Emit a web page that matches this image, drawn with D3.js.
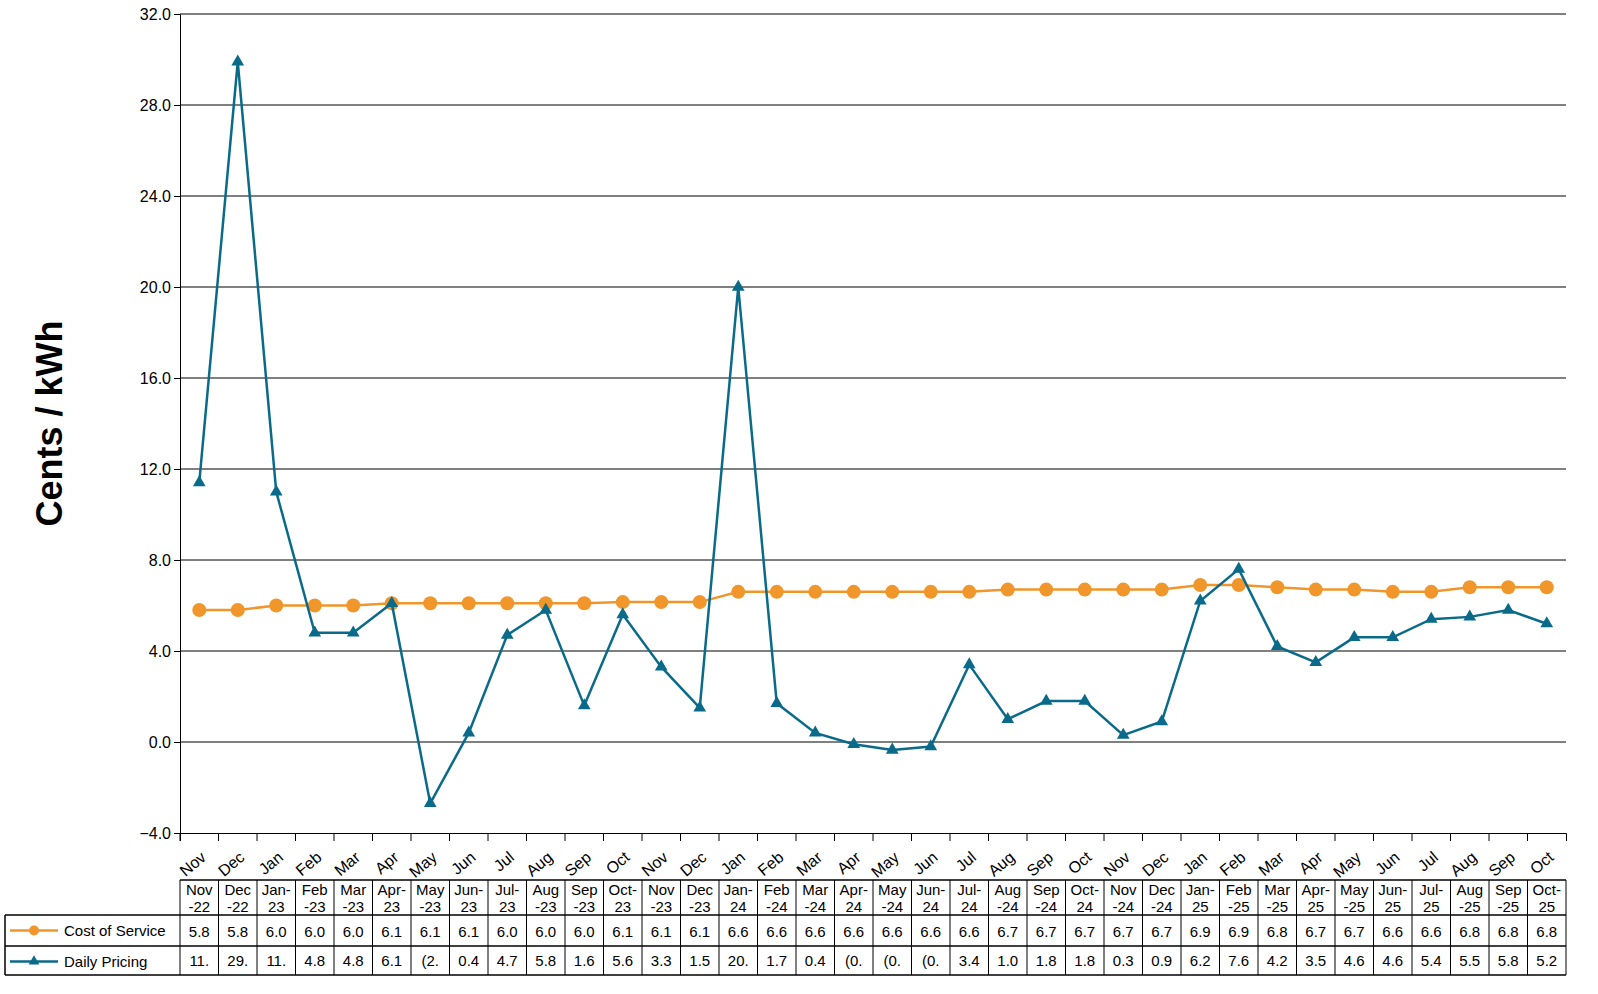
<!DOCTYPE html>
<html><head><meta charset="utf-8">
<script src="https://cdn.jsdelivr.net/npm/d3@7"></script>
<style>body{margin:0;background:#fff;font-family:"Liberation Sans",Arial,sans-serif}</style>
</head><body><div class="chart"></div>
<script>
const months = ['Nov','Dec','Jan','Feb','Mar','Apr','May','Jun','Jul','Aug','Sep','Oct',
  'Nov','Dec','Jan','Feb','Mar','Apr','May','Jun','Jul','Aug','Sep','Oct',
  'Nov','Dec','Jan','Feb','Mar','Apr','May','Jun','Jul','Aug','Sep','Oct']
const headers = [['Nov','-22'],['Dec','-22'],['Jan-','23'],['Feb','-23'],['Mar','-23'],['Apr-','23'],['May','-23'],['Jun-','23'],['Jul-','23'],['Aug','-23'],['Sep','-23'],['Oct-','23'],
  ['Nov','-23'],['Dec','-23'],['Jan-','24'],['Feb','-24'],['Mar','-24'],['Apr-','24'],['May','-24'],['Jun-','24'],['Jul-','24'],['Aug','-24'],['Sep','-24'],['Oct-','24'],
  ['Nov','-24'],['Dec','-24'],['Jan-','25'],['Feb','-25'],['Mar','-25'],['Apr-','25'],['May','-25'],['Jun-','25'],['Jul-','25'],['Aug','-25'],['Sep','-25'],['Oct-','25']]
const costOfService = [5.8,5.8,6.0,6.0,6.0,6.1,6.1,6.1,6.1,6.1,6.1,6.15,6.15,6.15,6.6,6.6,6.6,6.6,6.6,6.6,6.6,6.7,6.7,6.7,6.7,6.7,6.9,6.9,6.8,6.7,6.7,6.6,6.6,6.8,6.8,6.8]
const costLabels = ['5.8','5.8','6.0','6.0','6.0','6.1','6.1','6.1','6.0','6.0','6.0','6.1','6.1','6.1','6.6','6.6','6.6','6.6','6.6','6.6','6.6','6.7','6.7','6.7','6.7','6.7','6.9','6.9','6.8','6.7','6.7','6.6','6.6','6.8','6.8','6.8']
const dailyPricing = [11.4,29.9,11.0,4.8,4.8,6.1,-2.7,0.4,4.7,5.8,1.6,5.6,3.3,1.5,20.0,1.7,0.4,-0.1,-0.35,-0.2,3.4,1.0,1.8,1.8,0.3,0.9,6.2,7.6,4.2,3.5,4.6,4.6,5.4,5.5,5.8,5.2]
const yTicks = [-4,0,4,8,12,16,20,24,28,32]

const W = 1598, H = 994
const pLeft = 180, pRight = 1566, pTop = 14, pBottom = 833
const svg = d3.select('.chart').append('svg').attr('width', W).attr('height', H)

const x = d3.scaleBand().domain(d3.range(36)).range([pLeft, pRight])
const y = d3.scaleLinear().domain([-4, 32]).range([pBottom, pTop])
const cx = i => x(i) + x.bandwidth() / 2

// gridlines
svg.append('g').selectAll('line').data(yTicks.slice(1)).enter().append('line')
  .attr('x1', pLeft).attr('x2', pRight).attr('y1', d => y(d)).attr('y2', d => y(d))
  .attr('stroke', '#000').attr('stroke-width', 1)

svg.append('g').attr('transform', `translate(${pLeft},0)`)
  .call(d3.axisLeft(y).tickValues(yTicks).tickFormat(d3.format('.1f')).tickSize(6))
  .call(g => g.selectAll('text').attr('font-size', 16).attr('font-family', 'Liberation Sans').attr('fill', '#000'))
  .call(g => g.selectAll('line,path').attr('stroke', '#000'))

svg.append('g').attr('transform', `translate(0,${pBottom})`)
  .call(d3.axisBottom(x).tickSize(8).tickFormat(''))
  .call(g => g.selectAll('.tick').attr('transform', d => `translate(${x(d)},0)`))
  .call(g => g.selectAll('line,path').attr('stroke', '#000'))

// rotated month labels
svg.append('g').selectAll('text').data(months).enter().append('text')
  .attr('transform', (d, i) => `translate(${cx(i) + 8},${pBottom + 26}) rotate(-40)`)
  .attr('text-anchor', 'end').attr('font-size', 16).text(d => d)

svg.append('text').attr('transform', `translate(62,${(pTop + pBottom) / 2}) rotate(-90)`)
  .attr('text-anchor', 'middle').attr('font-size', 36).attr('font-weight', 'bold').text('Cents / kWh')

const orange = '#f0962a', teal = '#0a6a8a'
const line = d3.line().x((d, i) => cx(i)).y(d => y(d))
svg.append('path').datum(costOfService).attr('d', line).attr('fill', 'none').attr('stroke', orange).attr('stroke-width', 2.5)
svg.append('g').selectAll('circle').data(costOfService).enter().append('circle')
  .attr('cx', (d, i) => cx(i)).attr('cy', d => y(d)).attr('r', 7).attr('fill', orange)
svg.append('path').datum(dailyPricing).attr('d', line).attr('fill', 'none').attr('stroke', teal).attr('stroke-width', 2.5)
const tri = d3.symbol().type(d3.symbolTriangle).size(70)
svg.append('g').selectAll('path').data(dailyPricing).enter().append('path')
  .attr('d', tri).attr('transform', (d, i) => `translate(${cx(i)},${y(d)})`).attr('fill', teal)

// data table
const t0 = 880, t1 = 915, t2 = 946, t3 = 975, tl = 5
const tg = svg.append('g').attr('stroke', '#000').attr('stroke-width', 1.5)
tg.append('line').attr('x1', pLeft).attr('x2', pRight).attr('y1', t0).attr('y2', t0)
;[t1, t2, t3].forEach(v => tg.append('line').attr('x1', tl).attr('x2', pRight).attr('y1', v).attr('y2', v))
d3.range(37).forEach(i => {
  const xx = i < 36 ? x(i) : pRight
  tg.append('line').attr('x1', xx).attr('x2', xx).attr('y1', t0).attr('y2', t3).attr('stroke-width', 1)
})
tg.append('line').attr('x1', tl).attr('x2', tl).attr('y1', t1).attr('y2', t3)

headers.forEach((h, i) => {
  h.forEach((s, k) => svg.append('text').attr('x', cx(i)).attr('y', t0 + 15 + k * 17)
    .attr('text-anchor', 'middle').attr('font-size', 15).text(s))
})
const dpLabel = v => (v < 0 ? '(' + Math.abs(v).toFixed(1) : v.toFixed(1)).slice(0, 3)
costLabels.forEach((s, i) => svg.append('text').attr('x', cx(i)).attr('y', t1 + 22)
  .attr('text-anchor', 'middle').attr('font-size', 15).text(s))
dailyPricing.forEach((v, i) => svg.append('text').attr('x', cx(i)).attr('y', t2 + 20)
  .attr('text-anchor', 'middle').attr('font-size', 15).text(v >= 10 ? String(Math.floor(v)) + '.' : dpLabel(v)))

// legend keys in table
const keys = [[orange, 'circle', 'Cost of Service', t1], [teal, 'tri', 'Daily Pricing', t2]]
keys.forEach(([c, m, lab, rowTop]) => {
  const yy = rowTop + (t2 - t1) / 2
  svg.append('line').attr('x1', 10).attr('x2', 58).attr('y1', yy).attr('y2', yy).attr('stroke', c).attr('stroke-width', 2.5)
  if (m === 'circle') svg.append('circle').attr('cx', 34).attr('cy', yy).attr('r', 5).attr('fill', c)
  else svg.append('path').attr('d', d3.symbol().type(d3.symbolTriangle).size(50)).attr('transform', `translate(34,${yy})`).attr('fill', c)
  svg.append('text').attr('x', 64).attr('y', yy + 5).attr('font-size', 15).text(lab)
})
</script></body></html>
